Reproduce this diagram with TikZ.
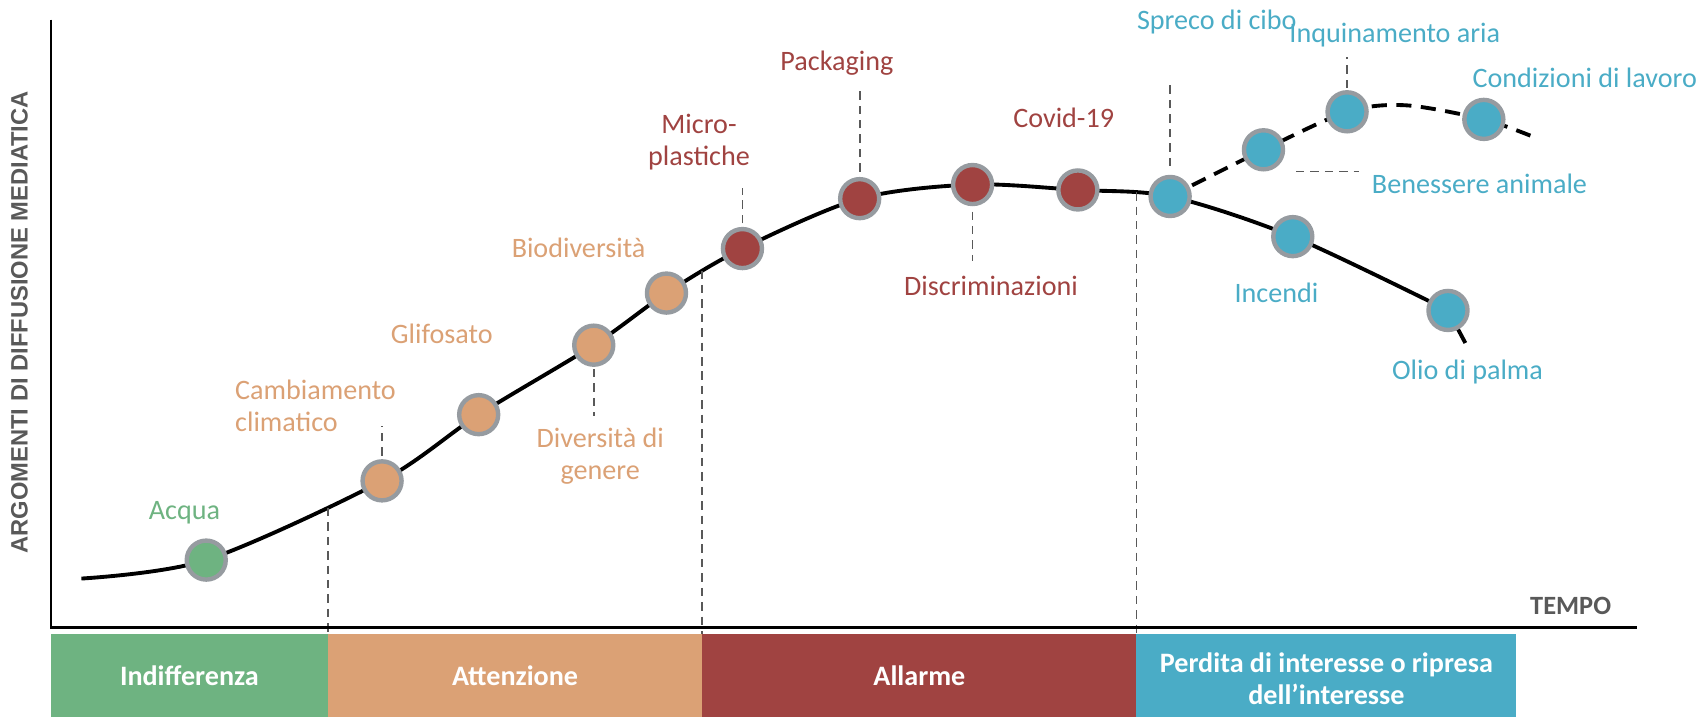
\documentclass[tikz,border=0pt]{standalone}
\usepackage{fontspec}
\setmainfont{Carlito}
\newfontfamily\axisfont{Liberation Sans}
\usetikzlibrary{backgrounds,intersections}

\definecolor{cgreen}{RGB}{110,179,129}
\definecolor{ctan}{RGB}{219,161,117}
\definecolor{cred}{RGB}{160,67,65}
\definecolor{cblue}{RGB}{74,172,198}
\definecolor{cring}{RGB}{150,155,160}
\definecolor{cgray}{RGB}{89,89,89}

\tikzset{
  dot/.style={circle, draw=cring, line width=1.25pt, minimum size=0.39cm, inner sep=0pt},
  lbl/.style={font=\fontsize{8}{9}\selectfont, inner sep=0pt},
  bandtxt/.style={font=\fontsize{8}{9}\selectfont\bfseries, text=white, align=center},
  leader/.style={cgray, line width=0.5pt, dash pattern=on 2.4pt off 1.7pt},
  trend/.style={line width=1.1pt}
}

\begin{document}
\begin{tikzpicture}[x=0.010855cm, y=-0.010855cm]
    \useasboundingbox (0,0) rectangle (1568,661);

    % phases
    \fill[cgreen] (47,584) rectangle (302,661);
    \fill[ctan] (302,584) rectangle (647,661);
    \fill[cred] (647,584) rectangle (1047,661);
    \fill[cblue] (1047,584) rectangle (1397,661);
    \node[bandtxt] (indiff) at (174.5,622.5) {Indifferenza};
    \node[bandtxt] (attenz) at (474.5,622.5) {Attenzione};
    \node[bandtxt] (allarme) at (847,622.5) {Allarme};
    \node[bandtxt] (perdita) at (1222,625) {Perdita di interesse o ripresa\\dell’interesse};
    \coordinate (btop) at (0,584);

    % axes
    \draw[line width=0.7pt] (47,18) -- (47,578) -- (1508,578);
    \node[rotate=90, font=\axisfont\bfseries\fontsize{6.75}{8}\selectfont, text=cgray] (ylab) at (18,297) {ARGOMENTI DI DIFFUSIONE MEDIATICA};
    \node[font=\bfseries\fontsize{7.5}{9}\selectfont, text=cgray] (tempo) at (1447,558) {TEMPO};

    % topics
    \node[dot, fill=cgreen] (acqua) at (190,516) {};
    \node[dot, fill=ctan] (camb) at (352,443) {};
    \node[dot, fill=ctan] (glif) at (441,382) {};
    \node[dot, fill=ctan] (div) at (547,318) {};
    \node[dot, fill=ctan] (bio) at (614,270) {};
    \node[dot, fill=cred] (micro) at (684,229) {};
    \node[dot, fill=cred] (pack) at (792,183) {};
    \node[dot, fill=cred] (discr) at (896,170) {};
    \node[dot, fill=cred] (covid) at (993,175) {};
    \node[dot, fill=cblue] (spreco) at (1078,181) {};
    \node[dot, fill=cblue] (incendi) at (1191,218) {};
    \node[dot, fill=cblue] (olio) at (1334,286) {};
    \node[dot, fill=cblue] (ben) at (1164,138) {};
    \node[dot, fill=cblue] (inq) at (1241,103) {};
    \node[dot, fill=cblue] (cond) at (1367,110) {};

    \coordinate (start) at (75,533);
    \coordinate (endA) at (1350,316);
    \coordinate (peakB) at (1295,97);
    \coordinate (endB) at (1415,127);

    \begin{pgfonlayer}{background}
    \draw[trend, name path=trendA] plot[smooth] coordinates {(start) (acqua.center) (camb.center) (glif.center) (div.center) (bio.center) (micro.center) (pack.center) (discr.center) (covid.center) (spreco.center) (incendi.center) (olio.center)} -- (endA);
    \draw[trend, dash pattern=on 4.3pt off 2.7pt] plot[smooth] coordinates {(spreco.center) (ben.center) (inq.center) (peakB) (cond.center) (endB)};
    % phase limits
    \path[name path=cut1] (302,0) -- (302,600);
    \path[name path=cut2] (647,0) -- (647,600);
    \path[name path=cut3] (1047,0) -- (1047,600);
    \path[name intersections={of=trendA and cut1, by=ph1}];
    \path[name intersections={of=trendA and cut2, by=ph2}];
    \path[name intersections={of=trendA and cut3, by=ph3}];
    \draw[leader] (ph1) -- (ph1 |- btop);
    \draw[leader] (ph2) -- (ph2 |- btop);
    \draw[leader] (ph3) -- (ph3 |- btop);
    \end{pgfonlayer}

    % labels
    \node[lbl, text=cgreen] (lacqua) at (170,472) {Acqua};
    \node[lbl, text=ctan, align=left, anchor=west] (lcamb) at (216,374) {Cambiamento\\climatico};
    \node[lbl, text=ctan] (lglif) at (407,308) {Glifosato};
    \node[lbl, text=ctan, align=center] (ldiv) at (553,420) {Diversità di\\genere};
    \node[lbl, text=ctan] (lbio) at (533,228) {Biodiversità};
    \node[lbl, text=cred, align=center] (lmicro) at (644,131) {Micro-\\plastiche};
    \node[lbl, text=cred] (lpack) at (771,58) {Packaging};
    \node[lbl, text=cred] (lcovid) at (980,109) {Covid-19};
    \node[lbl, text=cred] (ldiscr) at (913,263) {Discriminazioni};
    \node[lbl, text=cblue] (lspreco) at (1121,20) {Spreco di cibo};
    \node[lbl, text=cblue] (linq) at (1285,32) {Inquinamento aria};
    \node[lbl, text=cblue] (lcond) at (1460,72) {Condizioni di lavoro};
    \node[lbl, text=cblue] (lben) at (1363,169) {Benessere animale};
    \node[lbl, text=cblue] (linc) at (1176,270) {Incendi};
    \node[lbl, text=cblue] (lolio) at (1352,343) {Olio di palma};

    % leaders
    \draw[leader] ([yshift=1pt]camb.north) -- ++(0,-27);
    \draw[leader] ([yshift=-0.6pt]div.south) -- ++(0,43);
    \draw[leader] ([yshift=1pt]micro.north) -- ++(0,-33);
    \draw[leader] ([yshift=1.5pt]pack.north) -- ++(0,-76);
    \draw[leader] ([yshift=-1.5pt]discr.south) -- ++(0,46);
    \draw[leader] ([yshift=2.5pt]spreco.north) -- ++(0,-77);
    \draw[leader] ([yshift=0.6pt]inq.north) -- ++(0,-29);
    \draw[leader] (ben.south) ++(30,0) -- ++(58,0);
\end{tikzpicture}
\end{document}
